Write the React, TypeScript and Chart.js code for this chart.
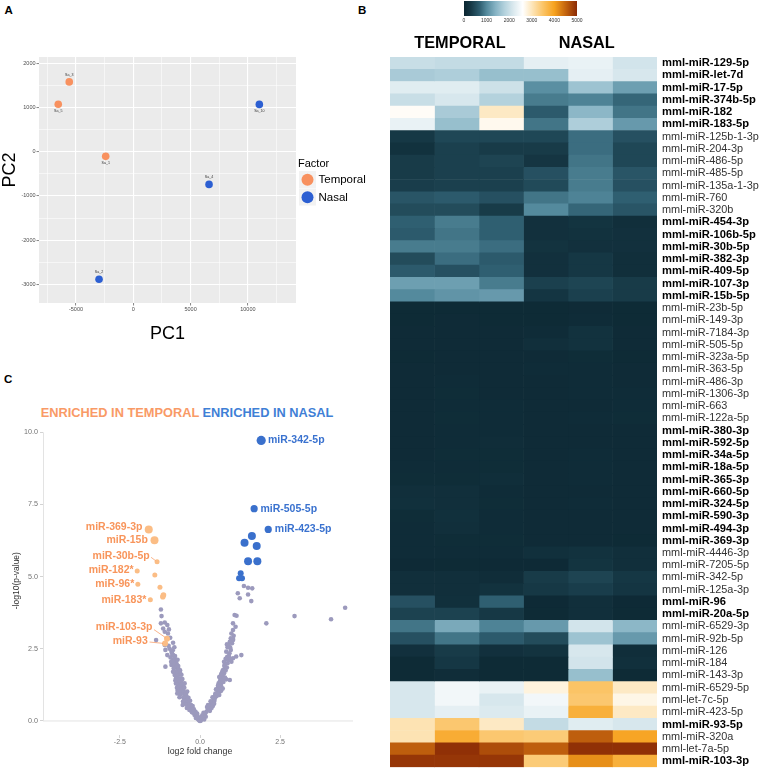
import React, { useEffect, useRef } from 'react';
import { Chart, registerables } from 'chart.js';

Chart.register(...registerables);
const FONT = "'Liberation Sans', Arial, Helvetica, sans-serif";
Chart.defaults.font.family = FONT;

// ================= Panel A : PCA =================
const pcaFactorLevels = ['Temporal', 'Nasal'];
const temporalPC1 = [-6550, -5590, -2410];
const temporalPC2 = [1075, 1580, -105];
const temporalSampleIds = ['Sa_5', 'Sa_3', 'Sa_1'];
const nasalPC1 = [-2990, 6610, 11000];
const nasalPC2 = [-2885, -740, 1070];
const nasalSampleIds = ['Sa_2', 'Sa_4', 'Sa_10'];
const pc1Breaks = [-7500, -5000, -2500, 0, 2500, 5000, 7500, 10000, 12500];
const pc2Breaks = [-3000, -2500, -2000, -1500, -1000, -500, 0, 500, 1000, 1500, 2000];
const pcaAxisTitles = ['PC1', 'PC2'];

// ================= Panel C : volcano =================
const volcanoTitleTemporal = 'ENRICHED IN TEMPORAL';
const volcanoTitleNasal = 'ENRICHED IN NASAL';
const volcanoXBreaks = [-2.5, 0, 2.5];
const volcanoYBreaks = [0, 2.5, 5, 7.5, 10];
// [log2 fold change, -log10(p-value)]
const nasalSigPoints: [number, number][] = [
  [1.91, 9.71], [1.69, 7.35], [2.13, 6.63], [1.62, 6.4], [1.39, 6.17], [1.77, 6.06],
  [1.5, 5.53], [1.79, 5.53], [1.27, 5.11], [1.22, 4.94], [1.31, 4.94],
];
const nasalSigNames = ['miR-342-5p', 'miR-505-5p', 'miR-423-5p', '', '', '', '', '', '', '', ''];
const temporalSigPoints: [number, number][] = [
  [-1.6, 6.63], [-1.42, 6.26], [-1.34, 5.51], [-1.96, 5.19], [-1.94, 4.73], [-1.55, 4.2],
  [-1.41, 5.05], [-1.25, 4.63], [-1.16, 4.3], [-1.14, 4.36], [-1.03, 2.85], [-1.09, 2.68],
];
const temporalSigNames = ['miR-369-3p', 'miR-15b', 'miR-30b-5p', 'miR-182*', 'miR-96*', 'miR-183*', '', '', '', '', 'miR-103-3p', 'miR-93'];
const nsPoints: [number, number][] = [
  // left arm
  [-1.22, 3.86], [-1.2, 3.63], [-1.22, 3.38], [-1.1, 3.41], [-1.02, 3.32], [-0.97, 3.17], [-1.1, 3.09],
  [-1.0, 3.03], [-1.37, 2.8], [-1.1, 2.63], [-0.84, 2.71], [-1.08, 2.46], [-0.89, 2.4], [-1.02, 2.28],
  [-0.84, 2.28], [-0.79, 2.17], [-0.81, 2.09], [-0.74, 2.0], [-0.89, 1.94], [-0.77, 1.86], [-0.7, 1.76],
  [-0.66, 1.67], [-0.79, 1.59], [-0.69, 1.51], [-0.63, 1.42], [-0.6, 1.33], [-0.69, 1.25], [-0.56, 1.19],
  [-0.53, 1.07], [-0.6, 0.96], [-0.48, 0.9], [-0.45, 0.79], [-0.53, 0.67], [-0.39, 0.63], [-0.35, 0.52],
  [-0.32, 0.44], [-0.27, 0.36], [-0.22, 0.29], [-0.17, 0.21], [-0.11, 0.13], [-0.06, 0.06],
  [-0.58, 1.38], [-0.62, 1.47], [-0.72, 1.62], [-0.67, 1.8], [-0.8, 1.92], [-0.76, 2.05], [-0.85, 2.12],
  [-0.5, 1.0], [-0.55, 1.12], [-0.43, 0.88], [-0.47, 0.72], [-0.4, 0.58], [-0.36, 0.68], [-0.3, 0.48],
  [-0.26, 0.4], [-0.2, 0.33], [-0.15, 0.25], [-0.12, 0.18], [-0.08, 0.11], [-0.04, 0.04], [-0.65, 1.2],
  [-0.57, 1.28], [-0.71, 1.56], [-0.74, 1.7], [-0.82, 1.82], [-0.92, 2.2], [-0.87, 2.33], [-0.95, 2.5],
  [-0.7, 1.05], [-0.62, 0.92], [-0.52, 0.82], [-0.46, 0.6], [-1.08, 1.88], [-0.98, 2.6], [-0.93, 2.88],
  [-1.15, 3.2], [-0.64, 1.1], [-0.58, 0.98], [-0.42, 0.72], [-0.33, 0.56], [-0.24, 0.45], [-0.18, 0.3],
  [-0.1, 0.2], [-0.05, 0.09], [-0.02, 0.02], [-0.68, 1.36], [-0.75, 1.48],
  [-0.28, 0.55], [-0.38, 0.5], [-0.25, 0.3], [-0.33, 0.38], [-0.41, 0.45], [-0.36, 0.8], [-0.44, 0.95],
  [-0.49, 1.15], [-0.52, 1.25], [-0.66, 1.0], [-0.72, 1.15], [-0.75, 1.3], [-0.55, 1.45], [-0.61, 1.62],
  [-0.68, 1.9], [-0.73, 1.95], [-0.83, 2.0], [-0.78, 2.25], [-0.9, 2.05], [-0.62, 1.75], [-0.58, 1.6],
  [-0.48, 1.3], [-0.4, 1.02], [-0.31, 0.7], [-0.23, 0.52], [-0.19, 0.4], [-0.14, 0.32], [-0.09, 0.26],
  [-0.13, 0.1], [-0.07, 0.16], [-0.54, 0.55], [-0.5, 0.7], [-0.64, 0.82], [-0.71, 0.95], [-0.77, 1.4],
  [-0.84, 1.7], [-0.7, 2.12], [-0.85, 2.45], [-0.8, 2.55],
  // right arm
  [1.08, 3.67], [1.14, 3.64], [1.03, 3.38], [1.11, 3.26], [1.03, 3.15], [0.98, 3.03], [0.96, 2.86],
  [1.03, 2.8], [1.0, 2.69], [0.89, 2.63], [0.96, 2.46], [0.82, 2.4], [0.92, 2.34], [0.85, 2.22],
  [1.03, 2.17], [1.29, 2.28], [1.13, 2.23], [0.98, 2.05], [0.77, 1.94], [0.72, 1.76], [0.75, 1.65],
  [0.67, 1.53], [0.82, 1.44], [0.62, 1.37], [0.65, 1.25], [0.56, 1.13], [0.62, 1.02], [0.51, 0.9],
  [0.46, 0.79], [0.41, 0.67], [0.33, 0.55], [0.27, 0.44], [0.2, 0.32], [0.12, 0.21], [0.06, 0.09],
  [0.58, 1.3], [0.7, 1.58], [0.64, 1.45], [0.55, 1.05], [0.48, 0.95], [0.43, 0.75], [0.38, 0.62],
  [0.3, 0.5], [0.24, 0.38], [0.16, 0.26], [0.09, 0.15], [0.03, 0.04], [0.6, 1.18], [0.68, 1.4],
  [0.73, 1.68], [0.79, 1.85], [0.86, 2.0], [0.52, 0.86], [0.35, 0.58], [0.9, 2.25], [0.94, 2.55],
  [1.05, 2.95], [0.93, 2.74], [1.03, 2.84], [0.93, 1.42], [0.74, 1.49], [0.66, 1.2], [0.57, 0.98],
  [0.45, 0.7], [0.28, 0.4], [0.14, 0.22], [0.02, 0.01], [0.0, 0.0],
  [0.22, 0.48], [0.31, 0.35], [0.36, 0.45], [0.4, 0.52], [0.44, 0.6], [0.25, 0.55], [0.33, 0.68],
  [0.39, 0.82], [0.47, 0.88], [0.53, 0.95], [0.6, 0.9], [0.66, 1.05], [0.71, 1.12], [0.5, 1.1],
  [0.56, 1.22], [0.63, 1.32], [0.73, 1.35], [0.78, 1.5], [0.6, 1.52], [0.66, 1.62], [0.7, 1.72],
  [0.8, 1.75], [0.76, 1.9], [0.84, 1.85], [0.88, 2.1], [0.8, 2.15], [0.75, 2.05], [0.95, 2.15],
  [0.18, 0.15], [0.11, 0.28], [0.07, 0.2], [0.05, 0.12], [0.13, 0.05], [0.86, 2.55], [0.84, 2.65],
  // near significant cluster and tail
  [1.37, 4.67], [1.5, 4.61], [1.63, 4.59], [1.18, 4.42], [1.5, 4.38], [1.24, 4.25], [1.6, 4.15],
  [2.07, 3.38], [2.95, 3.63], [4.09, 3.52], [4.53, 3.92],
];

// ================= Panel B : heatmap =================
const heatmapGroups = ['TEMPORAL', 'NASAL'];
const colorbarBreaks = [0, 1000, 2000, 3000, 4000, 5000];
const mirnaNames = [
  'mml-miR-129-5p', 'mml-miR-let-7d', 'mml-miR-17-5p', 'mml-miR-374b-5p', 'mml-miR-182', 'mml-miR-183-5p',
  'mml-miR-125b-1-3p', 'mml-miR-204-3p', 'mml-miR-486-5p', 'mml-miR-485-5p', 'mml-miR-135a-1-3p', 'mml-miR-760',
  'mml-miR-320b', 'mml-miR-454-3p', 'mml-miR-106b-5p', 'mml-miR-30b-5p', 'mml-miR-382-3p', 'mml-miR-409-5p',
  'mml-miR-107-3p', 'mml-miR-15b-5p', 'mml-miR-23b-5p', 'mml-miR-149-3p', 'mml-miR-7184-3p', 'mml-miR-505-5p',
  'mml-miR-323a-5p', 'mml-miR-363-5p', 'mml-miR-486-3p', 'mml-miR-1306-3p', 'mml-miR-663', 'mml-miR-122a-5p',
  'mml-miR-380-3p', 'mml-miR-592-5p', 'mml-miR-34a-5p', 'mml-miR-18a-5p', 'mml-miR-365-3p', 'mml-miR-660-5p',
  'mml-miR-324-5p', 'mml-miR-590-3p', 'mml-miR-494-3p', 'mml-miR-369-3p', 'mml-miR-4446-3p', 'mml-miR-7205-5p',
  'mml-miR-342-5p', 'mml-miR-125a-3p', 'mml-miR-96', 'mml-miR-20a-5p', 'mml-miR-6529-3p', 'mml-miR-92b-5p',
  'mml-miR-126', 'mml-miR-184', 'mml-miR-143-3p', 'mml-miR-6529-5p', 'mml-let-7c-5p', 'mml-miR-423-5p',
  'mml-miR-93-5p', 'mml-miR-320a', 'mml-let-7a-5p', 'mml-miR-103-3p',
];
const significantMirnas = [
  'mml-miR-129-5p', 'mml-miR-let-7d', 'mml-miR-17-5p', 'mml-miR-374b-5p', 'mml-miR-182', 'mml-miR-183-5p',
  'mml-miR-454-3p', 'mml-miR-106b-5p', 'mml-miR-30b-5p', 'mml-miR-382-3p', 'mml-miR-409-5p', 'mml-miR-107-3p',
  'mml-miR-15b-5p', 'mml-miR-380-3p', 'mml-miR-592-5p', 'mml-miR-34a-5p', 'mml-miR-18a-5p', 'mml-miR-365-3p',
  'mml-miR-660-5p', 'mml-miR-324-5p', 'mml-miR-590-3p', 'mml-miR-494-3p', 'mml-miR-369-3p', 'mml-miR-96',
  'mml-miR-20a-5p', 'mml-miR-93-5p', 'mml-miR-103-3p',
];
const temporal1 = [
  2000, 1700, 2250, 2000, 2650, 2350, 300, 200, 330, 330, 350, 600, 500, 700, 650, 900, 500, 650, 1200, 1000,
  90, 90, 100, 100, 90, 100, 100, 100, 100, 100, 100, 100, 100, 110, 120, 150, 170, 120, 110, 110,
  110, 80, 160, 160, 550, 400, 850, 550, 180, 90, 90, 2150, 2150, 2150, 3050, 3050, 4550, 4900,
];
const temporal2 = [
  1950, 1750, 2250, 2150, 1700, 1550, 450, 380, 380, 380, 380, 650, 500, 900, 850, 900, 800, 550, 1200, 1100,
  90, 100, 100, 100, 100, 100, 110, 120, 110, 120, 110, 110, 120, 110, 120, 150, 160, 170, 150, 120,
  110, 90, 160, 160, 170, 400, 1300, 850, 330, 280, 130, 2450, 2450, 2300, 3450, 3850, 4950, 4900,
];
const temporal3 = [
  1950, 1550, 2050, 1800, 2950, 2700, 450, 330, 420, 380, 380, 550, 330, 700, 700, 800, 650, 700, 900, 1150,
  90, 90, 100, 100, 100, 100, 100, 100, 110, 110, 110, 130, 120, 120, 140, 110, 120, 110, 110, 120,
  110, 80, 130, 200, 700, 300, 950, 650, 180, 90, 90, 2350, 2150, 2200, 2950, 3450, 4700, 4900,
];
const nasal1 = [
  2300, 1550, 1050, 900, 650, 850, 450, 330, 260, 550, 480, 850, 1000, 180, 180, 220, 180, 180, 380, 250,
  90, 90, 110, 150, 100, 110, 100, 100, 100, 100, 100, 100, 100, 100, 100, 100, 100, 100, 100, 100,
  170, 80, 330, 300, 80, 90, 1150, 500, 220, 90, 90, 2800, 2450, 2350, 1950, 3400, 4550, 3400,
];
const nasal2 = [
  2350, 2300, 1600, 950, 1450, 1750, 800, 800, 850, 900, 900, 950, 750, 230, 200, 180, 280, 280, 430, 380,
  100, 110, 200, 200, 120, 110, 110, 110, 100, 110, 100, 100, 110, 110, 110, 100, 110, 100, 100, 100,
  200, 230, 420, 350, 160, 160, 2100, 1600, 2150, 2100, 1550, 3500, 3450, 3800, 2250, 4550, 4950, 4150,
];
const nasal3 = [
  2100, 2150, 1200, 750, 850, 1150, 550, 450, 450, 600, 550, 700, 600, 150, 180, 180, 150, 150, 330, 330,
  90, 90, 100, 100, 90, 100, 100, 110, 110, 120, 100, 100, 100, 100, 100, 100, 100, 100, 100, 90,
  160, 150, 280, 250, 80, 90, 1450, 1150, 140, 170, 90, 2950, 2750, 2950, 2150, 3950, 4950, 3800,
];
const sampleNames = ['Temporal 1', 'Temporal 2', 'Temporal 3', 'Nasal 1', 'Nasal 2', 'Nasal 3'];

// ================= styles =================
const PCA_COLORS = ['#f8915f', '#2c5fd2'];
const GRAY_PT = '#9c9abd';
const ORANGE_PT = '#fbbd85';
const ORANGE_TXT = '#f8955b';
const BLUE_PT = '#3a70cc';
const BLUE_TXT = '#3a72cf';
const nasalSigRadii = [4.6, 3.6, 3.6, 4, 4, 4, 4, 4, 3, 3, 3];
const temporalSigRadii = [4, 4, 2.5, 2.5, 2.5, 2.5, 2.5, 2.5, 2.8, 2.8, 3, 3];
const volcanoLabelStyle: Record<string, { dx: number; dy: number; align: 'left' | 'right'; leader?: [number, number] }> = {
  'miR-342-5p': { dx: 6.8, dy: 0, align: 'left' },
  'miR-505-5p': { dx: 6.3, dy: 0, align: 'left' },
  'miR-423-5p': { dx: 6.6, dy: 0, align: 'left' },
  'miR-369-3p': { dx: -6.3, dy: -2.6, align: 'right' },
  'miR-15b': { dx: -6.7, dy: 0, align: 'right' },
  'miR-30b-5p': { dx: -7.3, dy: -6, align: 'right', leader: [-6, -4.5] },
  'miR-182*': { dx: -3.6, dy: -0.7, align: 'right' },
  'miR-96*': { dx: -3.6, dy: 0, align: 'right' },
  'miR-183*': { dx: -4, dy: 0, align: 'right' },
  'miR-103-3p': { dx: -14.6, dy: -11.7, align: 'right', leader: [-13, -9] },
  'miR-93': { dx: -17.3, dy: -2, align: 'right', leader: [-15.5, -1.5] },
};
const pcaLabelAbove = [[false, true, false], [true, true, false]];
const colorStops: [number, string][] = [
  [0, '#0b2530'], [300, '#163845'], [700, '#2f5f71'], [1000, '#548a9d'], [1400, '#86b3c4'],
  [1800, '#b4d2dd'], [2200, '#dceaef'], [2600, '#ffffff'], [3000, '#fde6bb'], [3500, '#fbc466'],
  [4000, '#f6a21e'], [4500, '#c4640e'], [5000, '#8a2a05'],
];

function hexRgb(h: string) {
  const n = parseInt(h.slice(1), 16);
  return [(n >> 16) & 255, (n >> 8) & 255, n & 255];
}
function valueToColor(v: number) {
  for (let i = 0; i < colorStops.length - 1; i++) {
    const [v0, c0] = colorStops[i];
    const [v1, c1] = colorStops[i + 1];
    if (v <= v1 || i === colorStops.length - 2) {
      const t = Math.max(0, Math.min(1, (v - v0) / (v1 - v0)));
      const a = hexRgb(c0);
      const b = hexRgb(c1);
      const c = a.map((x, k) => Math.round(x + (b[k] - x) * t));
      return `rgb(${c[0]},${c[1]},${c[2]})`;
    }
  }
  return colorStops[colorStops.length - 1][1];
}

// ================= Panel A component =================
const pcaDecor = {
  id: 'pcaDecor',
  beforeDraw(chart: any) {
    const { ctx, chartArea: a } = chart;
    ctx.save();
    ctx.fillStyle = '#ebebeb';
    ctx.fillRect(a.left, a.top, a.right - a.left, a.bottom - a.top);
    ctx.restore();
  },
  afterDatasetsDraw(chart: any) {
    const { ctx } = chart;
    ctx.save();
    ctx.font = `3.6px ${FONT}`;
    ctx.fillStyle = '#333333';
    ctx.textAlign = 'center';
    ctx.textBaseline = 'middle';
    chart.data.datasets.forEach((ds: any, di: number) => {
      const meta = chart.getDatasetMeta(di);
      meta.data.forEach((pt: any, i: number) => {
        const above = pcaLabelAbove[di][i];
        ctx.fillText(ds.sampleIds[i], pt.x, pt.y + (above ? -7 : 7));
      });
    });
    ctx.restore();
  },
  afterDraw(chart: any) {
    const { ctx } = chart;
    ctx.save();
    ctx.fillStyle = '#000';
    ctx.font = `18px ${FONT}`;
    ctx.textAlign = 'center';
    ctx.textBaseline = 'middle';
    ctx.translate(10.5, 170);
    ctx.rotate(-Math.PI / 2);
    ctx.fillText(pcaAxisTitles[1], 0, 0);
    ctx.restore();

    ctx.save();
    ctx.fillStyle = '#000';
    ctx.textBaseline = 'middle';
    ctx.textAlign = 'left';
    ctx.font = `11px ${FONT}`;
    ctx.fillText('Factor', 298, 164);
    chart.data.datasets.forEach((ds: any, i: number) => {
      const y0 = 171 + i * 17.5;
      ctx.fillStyle = '#f2f2f2';
      ctx.fillRect(299, y0, 17, 17);
      ctx.fillStyle = ds.backgroundColor;
      ctx.beginPath();
      ctx.arc(307.5, y0 + 8.8, 6, 0, Math.PI * 2);
      ctx.fill();
      ctx.fillStyle = '#000';
      ctx.font = `11.5px ${FONT}`;
      ctx.fillText(ds.label, 318.5, y0 + 9.2);
    });
    ctx.restore();
  },
};

function PcaChart() {
  const ref = useRef<HTMLCanvasElement>(null);
  useEffect(() => {
    const canvas = ref.current!;
    const mk = (xs: number[], ys: number[]) => xs.map((x, i) => ({ x, y: ys[i] }));
    const majorX = (c: any) => c.tick && Math.abs(c.tick.value % 5000) === 0;
    const majorY = (c: any) => c.tick && Math.abs(c.tick.value % 1000) === 0;
    const chart = new Chart(canvas, {
      type: 'scatter',
      data: {
        datasets: [
          { label: pcaFactorLevels[0], data: mk(temporalPC1, temporalPC2), backgroundColor: PCA_COLORS[0], pointRadius: 3.8, borderWidth: 0, sampleIds: temporalSampleIds } as any,
          { label: pcaFactorLevels[1], data: mk(nasalPC1, nasalPC2), backgroundColor: PCA_COLORS[1], pointRadius: 3.8, borderWidth: 0, sampleIds: nasalSampleIds } as any,
        ],
      },
      options: {
        animation: false,
        responsive: false,
        events: [],
        layout: { padding: { top: 57, right: 84, left: 0, bottom: 0 } },
        plugins: { legend: { display: false }, tooltip: { enabled: false } },
        scales: {
          x: {
            type: 'linear', min: -8230, max: 14200,
            afterBuildTicks: (s: any) => { s.ticks = pc1Breaks.map((v) => ({ value: v })); },
            afterFit: (s: any) => { s.height = 42; },
            grid: {
              color: '#ffffff',
              lineWidth: (c: any) => (majorX(c) ? 1.1 : 0.55),
              drawTicks: true, tickLength: 2.5, tickWidth: 0.6,
              tickColor: (c: any) => (majorX(c) ? '#333333' : 'rgba(0,0,0,0)'),
            },
            border: { display: false },
            ticks: {
              font: { size: 5.5 }, color: '#4d4d4d', padding: 1, maxRotation: 0, autoSkip: false,
              callback: (v: any) => (Math.abs(Number(v) % 5000) === 0 ? String(v) : ''),
            },
            title: { display: true, text: pcaAxisTitles[0], font: { size: 18 }, color: '#000', padding: 0 },
          },
          y: {
            type: 'linear', min: -3423, max: 2143,
            afterBuildTicks: (s: any) => { s.ticks = pc2Breaks.map((v) => ({ value: v })); },
            afterFit: (s: any) => { s.width = 39; },
            grid: {
              color: '#ffffff',
              lineWidth: (c: any) => (majorY(c) ? 1.1 : 0.55),
              drawTicks: true, tickLength: 2.5, tickWidth: 0.6,
              tickColor: (c: any) => (majorY(c) ? '#333333' : 'rgba(0,0,0,0)'),
            },
            border: { display: false },
            ticks: {
              font: { size: 5.5 }, color: '#4d4d4d', padding: 1, autoSkip: false,
              callback: (v: any) => (Math.abs(Number(v) % 1000) === 0 ? String(v) : ''),
            },
            title: { display: false },
          },
        },
      } as any,
      plugins: [pcaDecor],
    });
    return () => chart.destroy();
  }, []);
  return <canvas ref={ref} width={380} height={345} style={{ position: 'absolute', left: 0, top: 0 }} />;
}

// ================= Panel C component =================
const volcanoDecor = {
  id: 'volcanoDecor',
  beforeDatasetsDraw(chart: any) {
    const { ctx, chartArea: a, scales } = chart;
    const y0 = scales.y.getPixelForValue(0);
    ctx.save();
    ctx.strokeStyle = '#e3e3e3';
    ctx.lineWidth = 1;
    ctx.beginPath();
    ctx.moveTo(a.left, y0);
    ctx.lineTo(a.right - 4, y0);
    ctx.moveTo(a.left + 0.5, a.top + 6);
    ctx.lineTo(a.left + 0.5, y0);
    ctx.stroke();
    ctx.restore();
  },
  afterDatasetsDraw(chart: any) {
    const { ctx } = chart;
    ctx.save();
    ctx.font = `bold 10.5px ${FONT}`;
    ctx.textBaseline = 'middle';
    chart.data.datasets.forEach((ds: any, di: number) => {
      if (!ds.names) return;
      const meta = chart.getDatasetMeta(di);
      meta.data.forEach((pt: any, i: number) => {
        const name = ds.names[i];
        const st = volcanoLabelStyle[name];
        if (!name || !st) return;
        ctx.fillStyle = ds.textColor;
        ctx.textAlign = st.align;
        ctx.fillText(name, pt.x + st.dx, pt.y + st.dy);
        if (st.leader) {
          ctx.strokeStyle = ds.textColor;
          ctx.lineWidth = 0.7;
          ctx.beginPath();
          ctx.moveTo(pt.x + st.leader[0], pt.y + st.leader[1]);
          const len = Math.hypot(st.leader[0], st.leader[1]);
          ctx.lineTo(pt.x + (st.leader[0] / len) * 2, pt.y + (st.leader[1] / len) * 2);
          ctx.stroke();
        }
      });
    });
    ctx.restore();
  },
};

function VolcanoChart() {
  const ref = useRef<HTMLCanvasElement>(null);
  useEffect(() => {
    const canvas = ref.current!;
    const mk = (pts: [number, number][]) => pts.map(([x, y]) => ({ x, y }));
    const chart = new Chart(canvas, {
      type: 'scatter',
      data: {
        datasets: [
          { label: volcanoTitleNasal, data: mk(nasalSigPoints), backgroundColor: BLUE_PT, pointRadius: nasalSigRadii, borderWidth: 0, names: nasalSigNames, textColor: BLUE_TXT } as any,
          { label: volcanoTitleTemporal, data: mk(temporalSigPoints), backgroundColor: ORANGE_PT, pointRadius: temporalSigRadii, borderWidth: 0, names: temporalSigNames, textColor: ORANGE_TXT } as any,
          { label: 'NS', data: mk(nsPoints), backgroundColor: GRAY_PT, pointRadius: 2.3, borderWidth: 0 } as any,
        ],
      },
      options: {
        animation: false,
        responsive: false,
        events: [],
        layout: { padding: { top: 6, right: 23, left: 0, bottom: 0 } },
        plugins: { legend: { display: false }, tooltip: { enabled: false } },
        scales: {
          x: {
            type: 'linear', min: -4.9, max: 4.9,
            afterBuildTicks: (s: any) => { s.ticks = volcanoXBreaks.map((v) => ({ value: v })); },
            afterFit: (s: any) => { s.height = 44; },
            grid: { drawOnChartArea: false, drawTicks: true, tickLength: 3, tickColor: '#b5b5b5', tickWidth: 0.6 },
            border: { display: false },
            ticks: { font: { size: 7 }, color: '#737373', padding: 0, maxRotation: 0, callback: (v: any) => Number(v).toFixed(1) },
            title: { display: true, text: 'log2 fold change', font: { size: 8.8 }, color: '#333333', padding: { top: 0, bottom: 22 } },
          },
          y: {
            type: 'linear', min: -0.486, max: 10.2,
            afterBuildTicks: (s: any) => { s.ticks = volcanoYBreaks.map((v) => ({ value: v })); },
            afterFit: (s: any) => { s.width = 43; },
            grid: { drawOnChartArea: false, drawTicks: true, tickLength: 3, tickColor: '#b5b5b5', tickWidth: 0.6 },
            border: { display: false },
            ticks: { font: { size: 7.2 }, color: '#737373', padding: 2, callback: (v: any) => Number(v).toFixed(1) },
            title: { display: true, text: '-log10(p-value)', font: { size: 8.5 }, color: '#333333', padding: { top: 11.5, bottom: 0 } },
          },
        },
      } as any,
      plugins: [volcanoDecor],
    });
    return () => chart.destroy();
  }, []);
  return <canvas ref={ref} width={380} height={359} style={{ position: 'absolute', left: 0, top: 420 }} />;
}

// ================= Panel B component =================
function HeatmapChart() {
  const ref = useRef<HTMLCanvasElement>(null);
  useEffect(() => {
    const canvas = ref.current!;
    const columns = [temporal1, temporal2, temporal3, nasal1, nasal2, nasal3];
    const isBold = (i: number) => significantMirnas.includes(mirnaNames[i]);
    const chart = new Chart(canvas, {
      type: 'bar',
      data: {
        labels: mirnaNames,
        datasets: columns.map((col, ci) => ({
          label: sampleNames[ci],
          data: col.map(() => 1),
          backgroundColor: col.map(valueToColor),
          borderWidth: 0,
          barPercentage: 1,
          categoryPercentage: 1,
        })),
      },
      options: {
        indexAxis: 'y',
        animation: false,
        responsive: false,
        events: [],
        layout: { padding: { top: 57, bottom: 2, left: 10, right: 0 } },
        plugins: { legend: { display: false }, tooltip: { enabled: false } },
        scales: {
          x: { display: false, stacked: true, min: 0, max: 6 },
          y: {
            stacked: true,
            position: 'right',
            grid: { display: false, drawTicks: false, tickLength: 0 },
            border: { display: false },
            afterFit: (s: any) => { s.width = 103; },
            ticks: {
              autoSkip: false,
              padding: 5,
              font: (c: any) => (isBold(c.index) ? { size: 11.2, weight: 'bold' } : { size: 10.9, weight: 'normal' }),
              color: (c: any) => (isBold(c.index) ? '#000000' : '#333333'),
            },
          },
        },
      } as any,
    });
    return () => chart.destroy();
  }, []);
  return <canvas ref={ref} width={380} height={779} style={{ position: 'absolute', left: 380, top: 0 }} />;
}

function Colorbar() {
  const grad = colorStops.map(([v, c]) => `${c} ${(v / 5000) * 100}%`).join(', ');
  const left = 464;
  const width = 113;
  return (
    <>
      <div style={{ position: 'absolute', left, top: 1, width, height: 15, background: `linear-gradient(to right, ${grad})` }} />
      {colorbarBreaks.map((b) => (
        <div key={b} style={{ position: 'absolute', left: left + (b / 5000) * width - 10, width: 20, top: 17.5, fontSize: 5, lineHeight: '5px', textAlign: 'center', color: '#333' }}>{b}</div>
      ))}
    </>
  );
}

const letterStyle: React.CSSProperties = { position: 'absolute', fontWeight: 'bold', fontSize: 11.5, lineHeight: '11.5px' };

export default function App() {
  return (
    <div style={{ position: 'absolute', left: 0, top: 0, width: 760, height: 779, background: '#ffffff', fontFamily: FONT, overflow: 'hidden' }}>
      <div style={{ ...letterStyle, left: 4.5, top: 5 }}>A</div>
      <div style={{ ...letterStyle, left: 358, top: 5 }}>B</div>
      <div style={{ ...letterStyle, left: 4, top: 374 }}>C</div>
      <PcaChart />
      <div style={{ position: 'absolute', left: 40.7, top: 406.6, fontSize: 12.8, lineHeight: '12.8px', fontWeight: 'bold', whiteSpace: 'nowrap' }}>
        <span style={{ color: '#f99a66' }}>{volcanoTitleTemporal}</span>{' '}
        <span style={{ color: '#3f7fd6' }}>{volcanoTitleNasal}</span>
      </div>
      <VolcanoChart />
      <HeatmapChart />
      <Colorbar />
      <div style={{ position: 'absolute', left: 460 - 60, width: 120, top: 33.5, textAlign: 'center', fontWeight: 'bold', fontSize: 16.3, lineHeight: '16.3px' }}>{heatmapGroups[0]}</div>
      <div style={{ position: 'absolute', left: 586.7 - 60, width: 120, top: 33.5, textAlign: 'center', fontWeight: 'bold', fontSize: 16.3, lineHeight: '16.3px' }}>{heatmapGroups[1]}</div>
    </div>
  );
}
